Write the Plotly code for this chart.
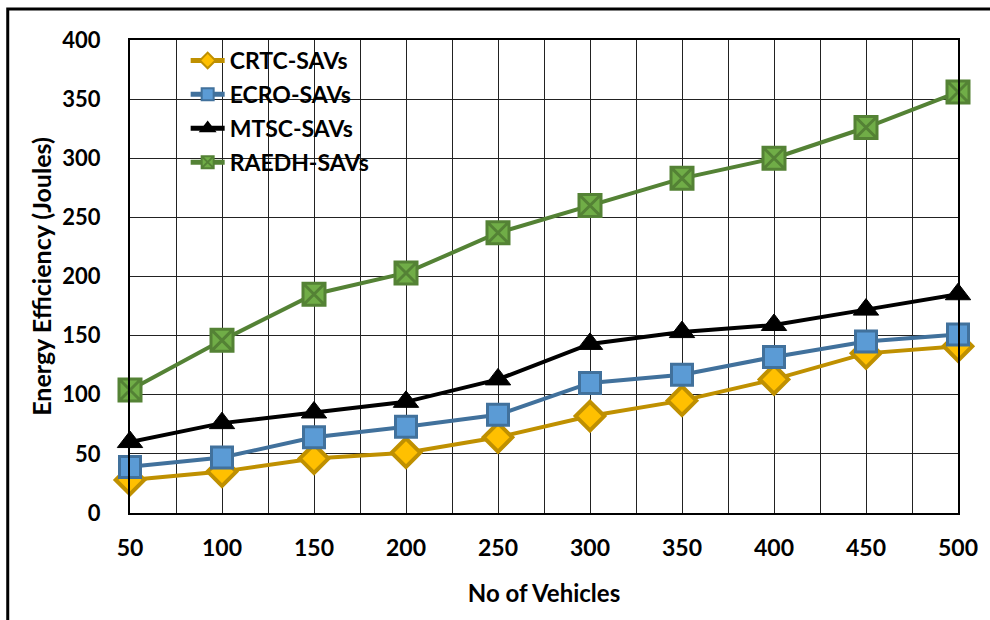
import plotly.graph_objects as go

# Number of vehicles (x) and energy efficiency in joules per scheme
vehicles = [50, 100, 150, 200, 250, 300, 350, 400, 450, 500]
crtc = [28, 35, 46, 51, 64, 82, 95, 113, 135, 141]
ecro = [39, 47, 64, 73, 83, 110, 117, 132, 145, 151]
mtsc = [60, 76, 85, 94, 113, 143, 153, 159, 172, 185]
raedh = [104, 146, 185, 203, 237, 260, 283, 300, 326, 356]

series_names = ["CRTC-SAVs", "ECRO-SAVs", "MTSC-SAVs", "RAEDH-SAVs"]
y_ticks = [0, 50, 100, 150, 200, 250, 300, 350, 400]

FONT = "Lato"

fig = go.Figure()

styles = [
    (crtc, "#BF9000", dict(symbol="diamond", size=22, color="#FFC000",
                           line=dict(color="#BF9000", width=4))),
    (ecro, "#41719C", dict(symbol="square", size=21, color="#5B9BD5",
                           line=dict(color="#41719C", width=3))),
    (mtsc, "#000000", dict(symbol="triangle-up", size=22, color="#000000",
                           line=dict(color="#000000", width=1))),
    (raedh, "#548235", dict(symbol="square-x", size=22, color="#70AD47",
                            line=dict(color="#548235", width=3))),
]

for name, (vals, lc, mk) in zip(series_names, styles):
    fig.add_trace(go.Scatter(
        x=vehicles, y=vals, name=name, mode="lines+markers",
        line=dict(color=lc, width=4), marker=mk, cliponaxis=False,
        legendgroup=name,
    ))

# Plot area in pixels: x 130..963, y 40..513
L, R, T, B = 130, 27, 40, 107
W, H = 990, 620
pw, ph = W - L - R, H - T - B

def px_x(x):
    return (x - L) / pw

def px_y(y):
    return (H - B - y) / ph

# Outer frame (left and top edges visible)
fig.add_shape(type="rect", xref="paper", yref="paper",
              x0=px_x(7), x1=px_x(1010), y0=px_y(640), y1=px_y(9),
              line=dict(color="#000000", width=3), fillcolor="rgba(0,0,0,0)",
              layer="below")

grid = "#222222"
fig.update_xaxes(
    range=[50, 500], tickmode="array", tickvals=vehicles,
    ticktext=[str(v) for v in vehicles],
    showgrid=True, gridcolor=grid, gridwidth=1.3,
    minor=dict(dtick=25, tick0=0, showgrid=True, gridcolor=grid, gridwidth=1.3),
    showline=True, linecolor="#000000", linewidth=2, mirror=True,
    ticks="", ticklabelstandoff=13, zeroline=False,
    tickfont=dict(family=FONT, size=23, color="#000000", weight="bold"),
    title=dict(text="No of Vehicles", standoff=26,
               font=dict(family=FONT, size=24, color="#000000", weight="bold")),
)
fig.update_yaxes(
    range=[0, 400], tickmode="array", tickvals=y_ticks,
    showgrid=True, gridcolor=grid, gridwidth=1.3,
    showline=True, linecolor="#000000", linewidth=2, mirror=True,
    ticks="", ticklabelstandoff=23, zeroline=False,
    tickfont=dict(family=FONT, size=22, color="#000000", weight="bold"),
    title=dict(text="Energy Efficiency (Joules)", standoff=4,
               font=dict(family=FONT, size=25, color="#000000", weight="bold")),
)

fig.update_layout(
    width=W, height=H,
    margin=dict(l=L, r=R, t=T, b=B),
    paper_bgcolor="#ffffff", plot_bgcolor="#ffffff",
    showlegend=True,
    legend=dict(
        x=px_x(186), y=px_y(39), xanchor="left", yanchor="top",
        bgcolor="rgba(0,0,0,0)", borderwidth=0, itemwidth=34,
        traceorder="grouped", tracegroupgap=1, itemsizing="constant",
        font=dict(family=FONT, size=23, color="#000000", weight="bold"),
    ),
)

fig.write_html("out.html")
